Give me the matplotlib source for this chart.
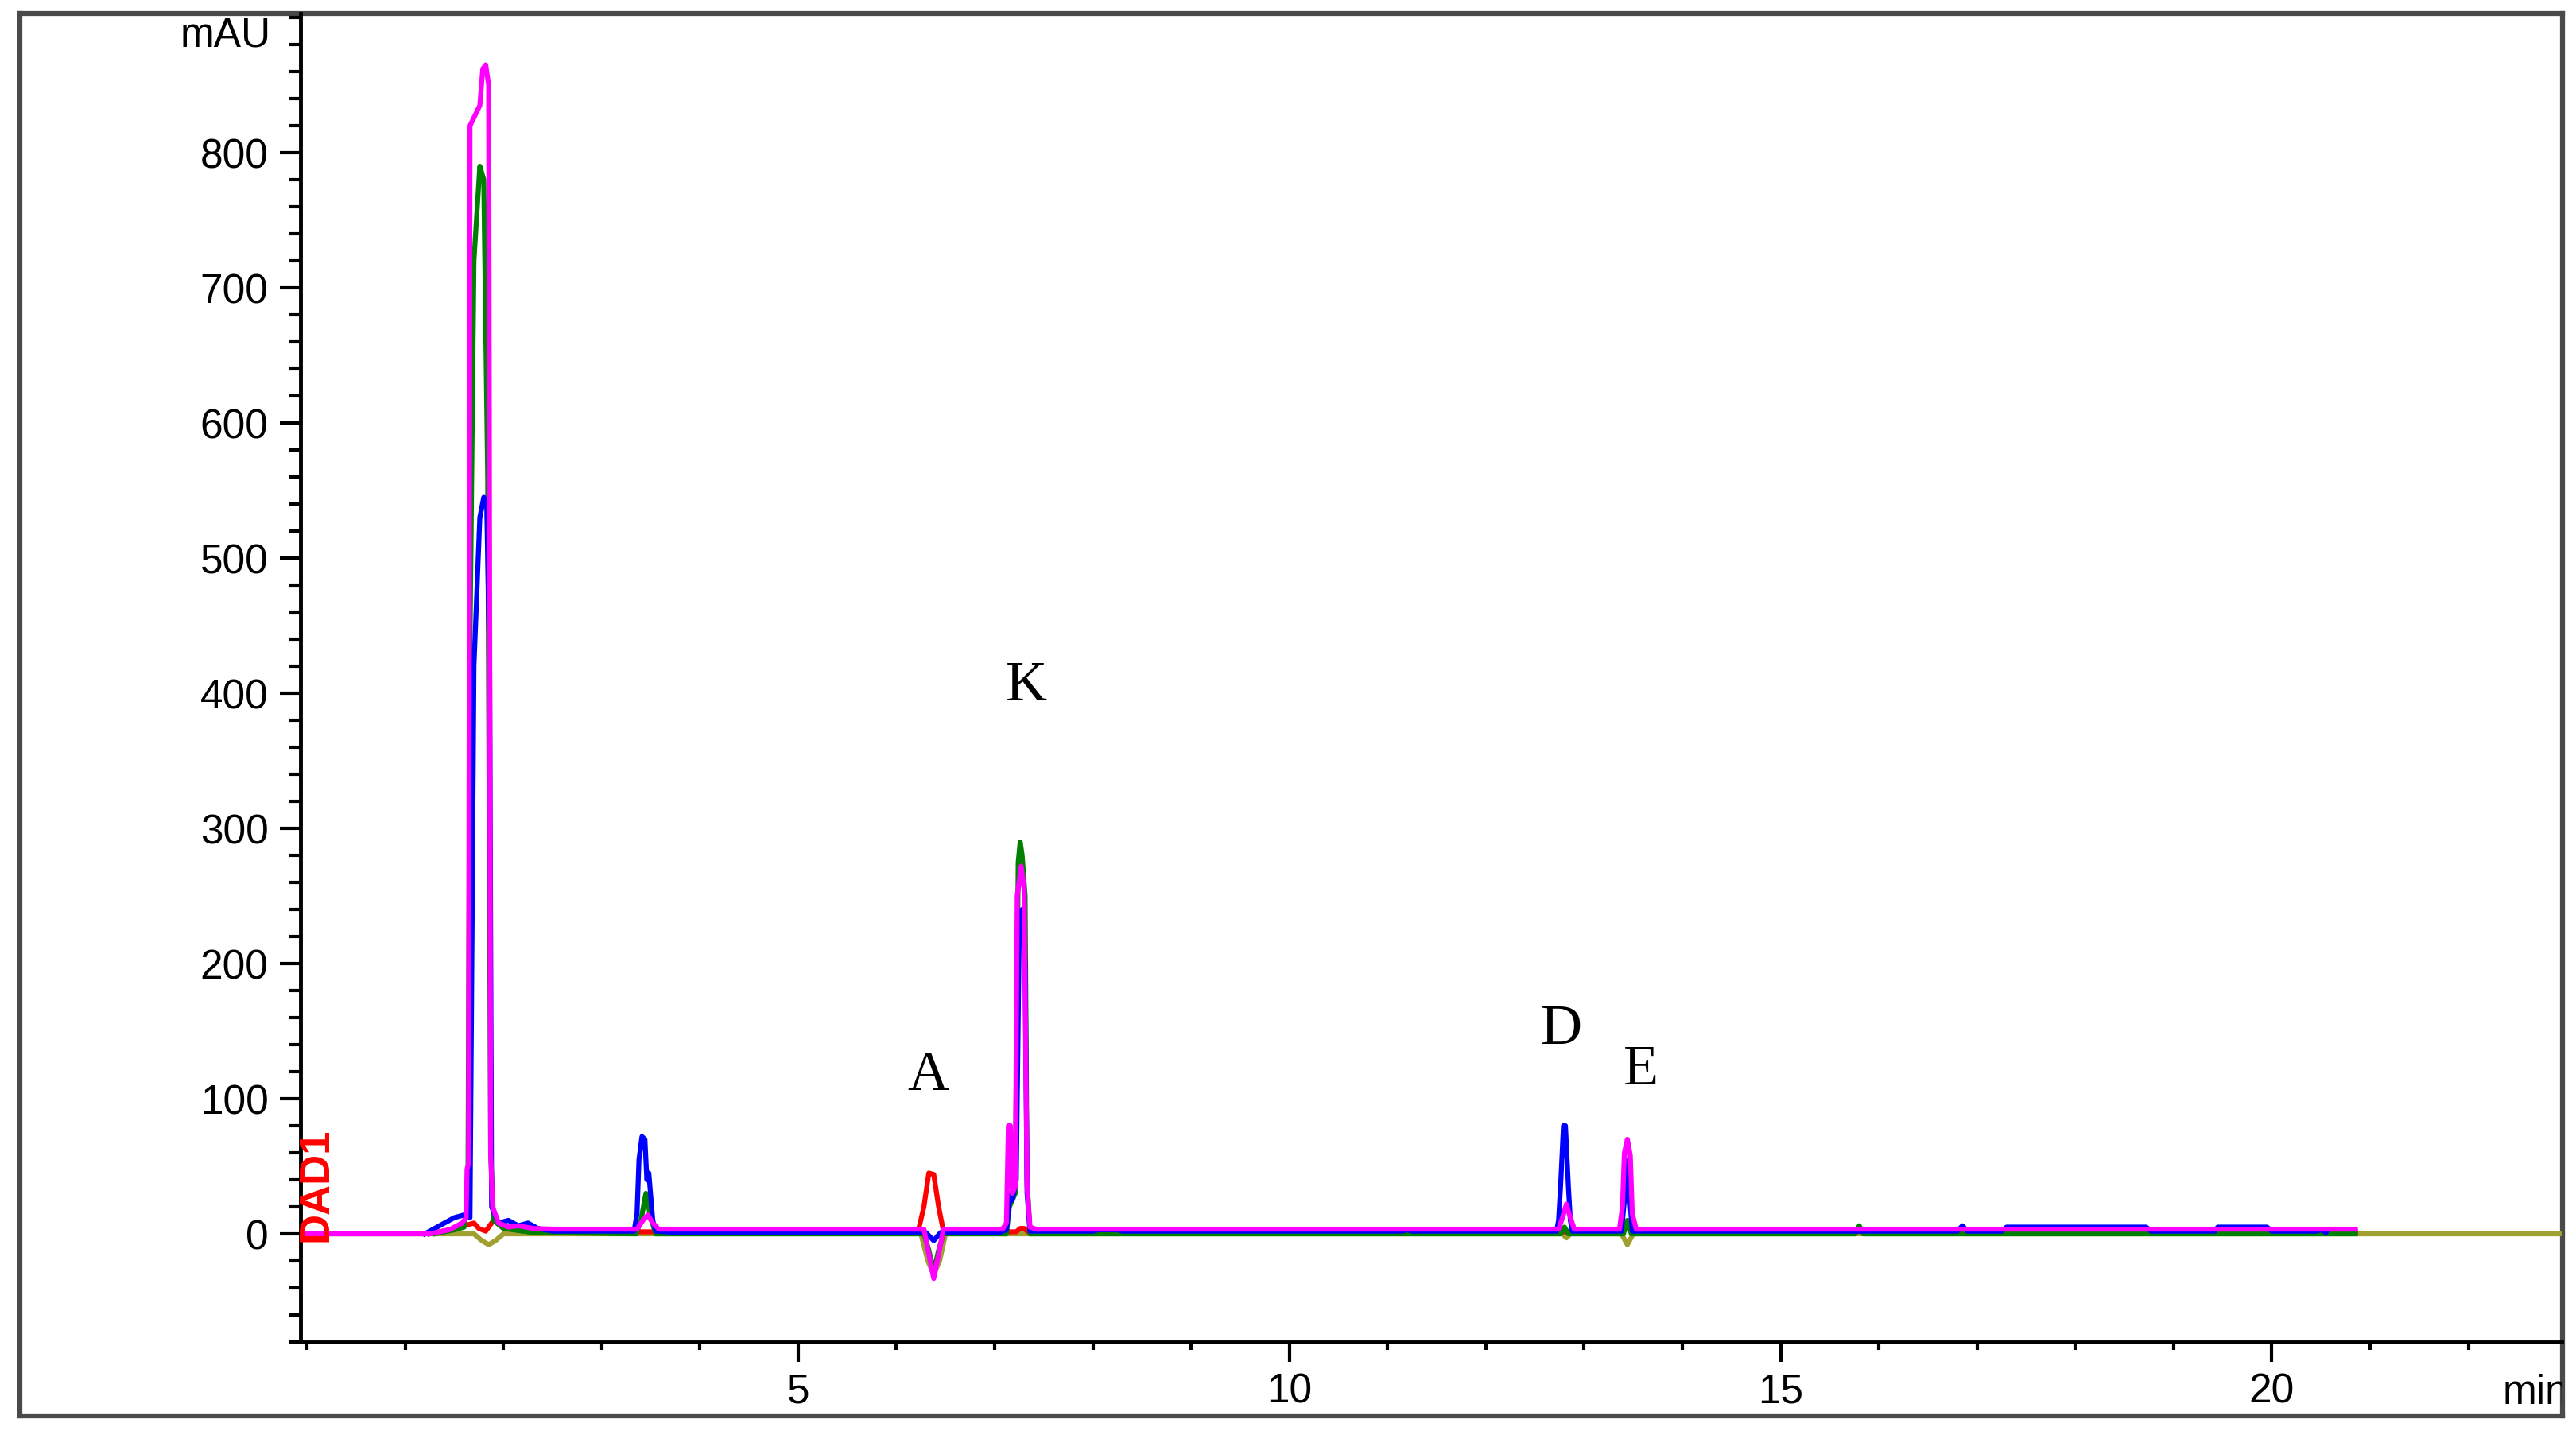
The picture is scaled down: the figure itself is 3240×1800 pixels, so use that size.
import matplotlib
matplotlib.use("Agg")
import matplotlib.pyplot as plt
from matplotlib.ticker import MultipleLocator, FixedLocator

# retention time (min) / absorbance (mAU) vertices
olive_t = [-0.07, 1.70, 1.78, 1.85, 1.92, 2.00, 6.25, 6.32, 6.38, 6.44, 6.50,
           12.78, 12.82, 12.86, 13.38, 13.44, 13.50, 22.95]
olive_v = [0, 0, -5, -8, -5, 0, 0, -20, -30, -20, 0,
           0, -3, 0, 0, -8, 0, 0]

red_t = [1.25, 1.45, 1.60, 1.70, 1.75, 1.82, 1.90, 1.98, 2.05, 2.20, 2.50,
         6.22, 6.28, 6.33, 6.38, 6.43, 6.48, 7.22, 7.26, 7.30, 7.34,
         13.40, 13.44, 13.48, 15.78, 15.82, 15.86, 20.85]
red_v = [0, 3, 6, 8, 4, 2, 10, 6, 4, 2, 1.5,
         1.5, 20, 45, 44, 20, 1.5, 1.5, 4, 4, 1.5,
         1.5, 8, 1.5, 1.5, 3, 1.5, 1.5]

green_t = [1.30, 1.50, 1.60, 1.62, 1.64, 1.66, 1.70, 1.76, 1.80, 1.84, 1.87,
           1.90, 2.00, 2.30, 3.35, 3.40, 3.45, 3.50, 3.55, 6.28, 6.33, 6.38,
           6.43, 6.48, 7.12, 7.15, 7.18, 7.21, 7.24, 7.26, 7.28, 7.31, 7.33,
           7.36, 12.76, 12.80, 12.84, 13.40, 13.44, 13.48, 15.76, 15.80, 15.84,
           20.85]
green_v = [0, 3, 5, 15, 50, 440, 720, 790, 780, 560, 60,
           10, 4, 1, 0, 10, 30, 12, 0, 0, -12, -28,
           -12, 0, 0, 20, 25, 30, 275, 290, 280, 250, 40,
           0, 0, 5, 0, 0, 10, 0, 0, 6, 0,
           0]

blue_t = [1.20, 1.30, 1.40, 1.50, 1.60, 1.66, 1.70, 1.76, 1.80, 1.83, 1.86,
          1.88, 1.95, 2.05, 2.15, 2.25, 2.35, 2.50, 3.33, 3.36, 3.38, 3.41,
          3.44, 3.46, 3.48, 3.52, 3.55, 3.75, 6.30, 6.38, 6.45, 7.05, 7.12,
          7.16, 7.18, 7.22, 7.25, 7.28, 7.31, 7.33, 7.36, 8.00, 8.05, 8.25,
          8.30, 11.15, 11.20, 11.25, 12.72, 12.74, 12.76, 12.79, 12.81, 12.84,
          12.86, 12.88, 13.38, 13.41, 13.43, 13.46, 13.49, 16.80, 16.85, 16.90,
          17.25, 17.30, 18.72, 18.77, 19.42, 19.45, 19.95, 20.00, 20.45, 20.50,
          20.55]
blue_v = [0, 4, 8, 12, 14, 12, 420, 530, 545, 540, 420,
          20, 8, 10, 6, 8, 4, 2, 2, 15, 55, 72,
          70, 40, 45, 10, 2, 1, 1, -5, 1, 1, 3,
          30, 25, 40, 220, 240, 200, 30, 2, 2, 3, 3,
          2, 2, 3, 2, 2, 10, 35, 80, 80, 35,
          10, 2, 2, 25, 55, 30, 2, 2, 6, 2,
          2, 5, 5, 2, 2, 5, 5, 2, 2, 3,
          1]

magenta_t = [0.00, 1.25, 1.45, 1.58, 1.62, 1.63, 1.645, 1.66, 1.76, 1.79,
             1.82, 1.85, 1.87, 1.89, 1.95, 2.05, 2.15, 2.30, 2.50, 3.36,
             3.42, 3.47, 3.52, 3.58, 6.28, 6.33, 6.38, 6.43, 6.48, 7.08,
             7.12, 7.14, 7.16, 7.18, 7.21, 7.23, 7.27, 7.30, 7.33, 7.36,
             7.42, 12.74, 12.78, 12.82, 12.86, 12.90, 13.36, 13.39, 13.41,
             13.44, 13.47, 13.49, 13.53, 20.85]
magenta_v = [0, 0, 3, 8, 12, 48, 52, 820, 835, 862,
             865, 850, 60, 20, 8, 5, 6, 4, 3.5, 3.5,
             10, 14, 8, 3.5, 3.5, -15, -33, -15, 3.5, 3.5,
             8, 80, 80, 30, 35, 250, 272, 255, 35, 5,
             3.5, 3.5, 12, 22, 12, 3.5, 3.5, 20, 60,
             70, 58, 15, 3.5, 3.5]

peak_names = ["A", "K", "D", "E"]
peak_label_t = [6.32, 7.32, 12.77, 13.58]
peak_label_v = [117, 405, 151, 121]

y_ticks = [0, 100, 200, 300, 400, 500, 600, 700, 800]
x_ticks = [5, 10, 15, 20]

sans = ["Liberation Sans", "DejaVu Sans"]
serif = ["Liberation Serif", "DejaVu Serif"]

fig = plt.figure(figsize=(32.4, 18), dpi=100)

# outer grey frame of the screenshot
box = fig.add_axes([25 / 3240, 1 - 1781 / 1800, (3223 - 25) / 3240, (1781 - 17) / 1800])
box.set_xticks([])
box.set_yticks([])
for s in box.spines.values():
    s.set_color("#4a4a4a")
    s.set_linewidth(4.5)

ax = fig.add_axes([378 / 3240, 1 - 1688 / 1800, (3222 - 378) / 3240, (1688 - 17) / 1800])
ax.set_facecolor("none")

lw = 4.5
ax.plot(olive_t, olive_v, color="#A0A030", lw=lw)
ax.plot(red_t, red_v, color="#FF0000", lw=lw)
ax.plot(green_t, green_v, color="#008000", lw=lw)
ax.plot(blue_t, blue_v, color="#0000FF", lw=lw)
ax.plot(magenta_t, magenta_v, color="#FF00FF", lw=lw)

for name, t, v in zip(peak_names, peak_label_t, peak_label_v):
    ax.text(t, v, name, family=serif, fontsize=52, ha="center", va="center")

ax.text(0.09, -6, "DAD1", rotation=90, color="#FF0000", family=sans,
        fontsize=38, fontweight="bold", ha="center", va="bottom")

ax.set_xlim(-0.065, 22.95)
ax.set_ylim(-80, 903)

ax.yaxis.set_major_locator(FixedLocator(y_ticks))
ax.yaxis.set_minor_locator(MultipleLocator(20))
ax.xaxis.set_major_locator(FixedLocator(x_ticks))
ax.xaxis.set_minor_locator(MultipleLocator(1))

ax.spines["top"].set_visible(False)
ax.spines["right"].set_visible(False)
ax.spines["left"].set_linewidth(3.5)
ax.spines["bottom"].set_linewidth(3.5)

ax.tick_params(axis="y", which="major", length=19, width=3, pad=10, labelsize=37)
ax.tick_params(axis="y", which="minor", length=10, width=3)
ax.tick_params(axis="x", which="major", length=18, width=3, pad=10, labelsize=37)
ax.tick_params(axis="x", which="minor", length=7, width=3)
for lab in ax.get_xticklabels() + ax.get_yticklabels():
    lab.set_family(sans)

fig.text(341 / 3240, 1 - 45 / 1800, "mAU", family=sans, fontsize=37, ha="right", va="center")
box.text(3148 / 3240, 1 - 1752 / 1800, "min", family=sans, fontsize=37, ha="left", va="center",
         transform=fig.transFigure, clip_on=True)

fig.savefig("out.png", dpi=100, facecolor="white")
